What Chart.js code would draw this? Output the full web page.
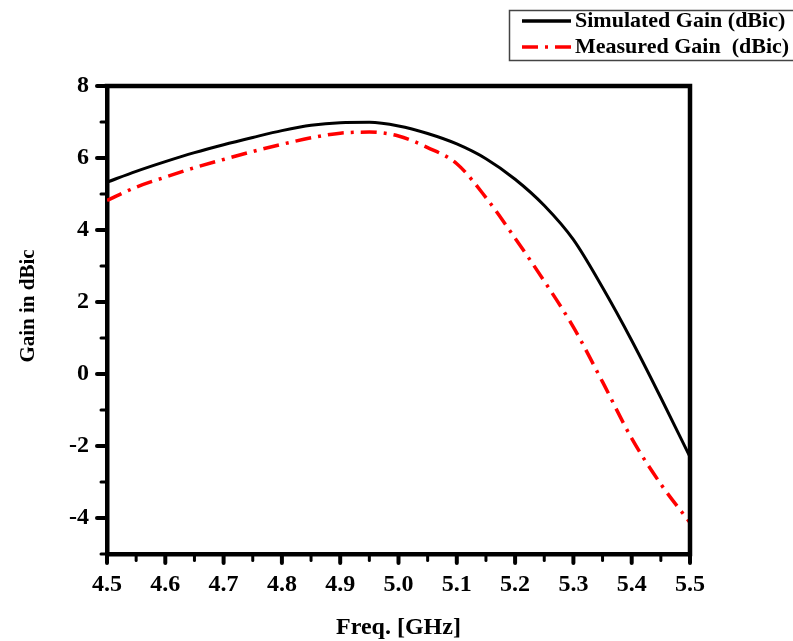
<!DOCTYPE html>
<html><head><meta charset="utf-8">
<script src="https://cdn.jsdelivr.net/npm/chart.js@4/dist/chart.umd.min.js"></script>
<style>html,body{margin:0;padding:0;background:#fff;}canvas{display:block;}</style>
</head><body>
<canvas id="c" width="793" height="641"></canvas>
<script>
const freq = [4.50, 4.55, 4.60, 4.65, 4.70, 4.75, 4.80, 4.85, 4.90, 4.95, 5.00, 5.05, 5.10, 5.15, 5.20, 5.25, 5.30, 5.35, 5.40, 5.45, 5.50];
const simulatedGain = [5.33, 5.63, 5.90, 6.15, 6.37, 6.57, 6.76, 6.91, 6.98, 6.99, 6.89, 6.68, 6.39, 5.98, 5.41, 4.68, 3.73, 2.40, 0.93, -0.66, -2.30];
const measuredGain = [4.82, 5.19, 5.47, 5.73, 5.96, 6.18, 6.38, 6.56, 6.69, 6.72, 6.61, 6.29, 5.84, 4.90, 3.77, 2.58, 1.30, -0.22, -1.79, -3.06, -4.13];
const xTickValues = [4.5, 4.6, 4.7, 4.8, 4.9, 5.0, 5.1, 5.2, 5.3, 5.4, 5.5];
const xMinorTicks = [4.55, 4.65, 4.75, 4.85, 4.95, 5.05, 5.15, 5.25, 5.35, 5.45];
const yTickValues = [-4, -2, 0, 2, 4, 6, 8];
const yMinorTicks = [-5, -3, -1, 1, 3, 5, 7];
const seriesLabels = ['Simulated Gain (dBic)', 'Measured Gain  (dBic)'];
const xTitle = 'Freq. [GHz]';
const yTitle = 'Gain in dBic';

const FONT = '"Liberation Serif","Times New Roman",serif';
const AXW = 4.5;
Chart.defaults.color = '#000';

const framePlugin = {
  id: 'frame',
  afterDraw(chart) {
    const {ctx, chartArea: a, scales: {x, y}} = chart;
    ctx.save();
    ctx.strokeStyle = '#000';
    ctx.lineCap = 'butt';
    ctx.lineWidth = AXW;
    ctx.beginPath();
    ctx.moveTo(a.left - AXW / 2, a.top);
    ctx.lineTo(a.right, a.top);
    ctx.lineTo(a.right, a.bottom + AXW / 2);
    ctx.stroke();
    const tick = (px, py, dx, dy, w) => {
      ctx.lineWidth = w; ctx.beginPath(); ctx.moveTo(px, py); ctx.lineTo(px + dx, py + dy); ctx.stroke();
    };
    ctx.lineCap = 'round';
    xTickValues.forEach(v => tick(x.getPixelForValue(v), a.bottom, 0, 9, 4));
    xMinorTicks.forEach(v => tick(x.getPixelForValue(v), a.bottom, 0, 6.5, 3));
    yTickValues.forEach(v => tick(a.left, y.getPixelForValue(v), -10, 0, 4));
    yMinorTicks.forEach(v => tick(a.left, y.getPixelForValue(v), -6, 0, 3));
    // y axis title
    ctx.save();
    ctx.fillStyle = '#000';
    ctx.font = 'bold 21px ' + FONT;
    ctx.textAlign = 'center';
    ctx.textBaseline = 'alphabetic';
    ctx.translate(34, 306);
    ctx.rotate(-Math.PI / 2);
    ctx.fillText(yTitle, 0, 0);
    ctx.restore();
    ctx.restore();
  }
};

const legendPlugin = {
  id: 'boxLegend',
  afterDraw(chart) {
    const ctx = chart.ctx;
    ctx.save();
    ctx.strokeStyle = '#444';
    ctx.lineWidth = 1.5;
    ctx.strokeRect(509.5, 10.5, 300, 50);
    const rows = [21, 47];
    chart.data.datasets.forEach((ds, i) => {
      const yy = rows[i];
      ctx.strokeStyle = ds.borderColor;
      ctx.lineWidth = 3.5;
      ctx.setLineDash(ds.borderDash || []);
      ctx.beginPath(); ctx.moveTo(522, yy); ctx.lineTo(571, yy); ctx.stroke();
      ctx.setLineDash([]);
      ctx.fillStyle = '#000';
      ctx.font = 'bold 22px ' + FONT;
      ctx.textBaseline = 'middle';
      ctx.textAlign = 'left';
      ctx.fillText(ds.label, 575, yy);
    });
    ctx.restore();
  }
};

new Chart(document.getElementById('c'), {
  type: 'line',
  data: {
    datasets: [
      {
        label: seriesLabels[0],
        data: freq.map((f, i) => ({x: f, y: simulatedGain[i]})),
        borderColor: '#000000',
        borderWidth: 3,
        pointRadius: 0,
        cubicInterpolationMode: 'monotone',
        fill: false
      },
      {
        label: seriesLabels[1],
        data: freq.map((f, i) => ({x: f, y: measuredGain[i]})),
        borderColor: '#ff0000',
        borderWidth: 3.5,
        borderDash: [16, 7, 3, 7],
        pointRadius: 0,
        cubicInterpolationMode: 'monotone',
        fill: false
      }
    ]
  },
  options: {
    responsive: false,
    animation: false,
    layout: {padding: {top: 86, right: 103, left: 0, bottom: 0}},
    plugins: {legend: {display: false}, tooltip: {enabled: false}},
    scales: {
      x: {
        type: 'linear', min: 4.5, max: 5.5,
        afterBuildTicks: s => { s.ticks = xTickValues.map(v => ({value: v})); },
        afterFit: s => { s.height = 87; },
        grid: {display: true, color: 'rgba(0,0,0,0)', drawOnChartArea: false, drawTicks: true, tickLength: 8},
        border: {display: true, color: '#000', width: AXW},
        ticks: {
          padding: 8, font: {family: FONT, weight: 'bold', size: 24},
          maxRotation: 0, autoSkip: false,
          callback: v => Number(v).toFixed(1)
        },
        title: {display: true, text: xTitle, font: {family: FONT, weight: 'bold', size: 24, lineHeight: 1.1}, padding: {top: 0, bottom: 0}}
      },
      y: {
        type: 'linear', min: -5, max: 8,
        afterBuildTicks: s => { s.ticks = yTickValues.map(v => ({value: v})); },
        afterFit: s => { s.width = 107; },
        grid: {display: true, color: 'rgba(0,0,0,0)', drawOnChartArea: false, drawTicks: true, tickLength: 8},
        border: {display: true, color: '#000', width: AXW},
        ticks: {
          padding: 10, font: {family: FONT, weight: 'bold', size: 24}, autoSkip: false,
          callback: v => String(v)
        },
        title: {display: false}
      }
    }
  },
  plugins: [framePlugin, legendPlugin]
});
</script>
</body></html>
